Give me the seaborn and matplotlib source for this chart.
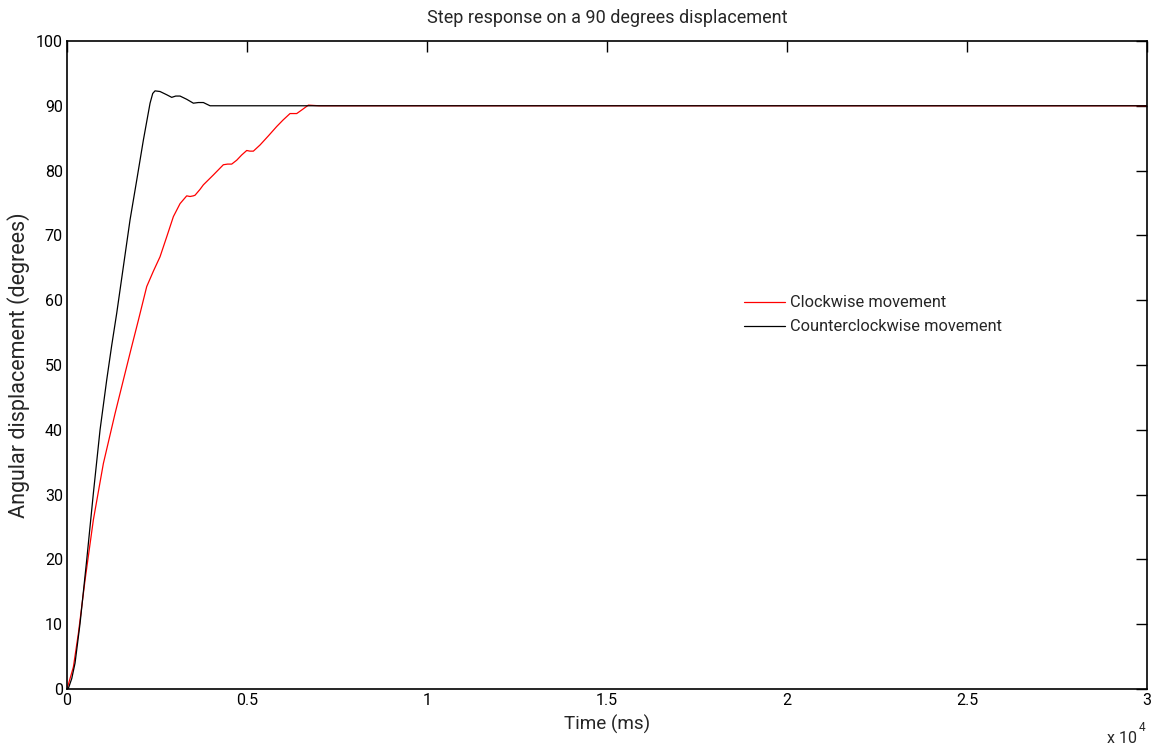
import matplotlib
matplotlib.use("Agg")
import matplotlib.pyplot as plt
import seaborn as sns
import pandas as pd
from matplotlib.ticker import FixedLocator, FuncFormatter

# Time samples (ms) and angular displacement (degrees) for each direction
cw_time = [0, 176, 315, 500, 731, 1009, 1333, 1565, 1780, 1981, 2213, 2400, 2583,
           2770, 2954, 3139, 3324, 3417, 3509, 3556, 3694, 3787, 4060, 4342, 4460,
           4574, 4713, 4850, 4991, 5080, 5176, 5361, 5600, 5824, 6000, 6194, 6290,
           6380, 6519, 6704, 7000, 30000]
cw_deg = [0.0, 3.4, 8.6, 16.8, 26.1, 34.8, 42.5, 47.7, 52.5, 56.9, 62.1, 64.5, 66.7,
          69.8, 72.9, 74.9, 76.1, 76.0, 76.1, 76.2, 77.1, 77.8, 79.3, 80.9, 81.0,
          81.0, 81.6, 82.4, 83.1, 83.0, 83.0, 83.95, 85.4, 86.8, 87.8, 88.8, 88.8,
          88.8, 89.35, 90.1, 90.0, 90.0]

ccw_time = [0, 37, 130, 222, 361, 546, 731, 917, 1102, 1240, 1380, 1565, 1750, 1935,
            2120, 2306, 2380, 2444, 2583, 2769, 2907, 3020, 3139, 3324, 3509, 3648,
            3787, 3972, 4300, 5000, 30000]
ccw_deg = [0.0, 0.1, 1.6, 4.0, 10.1, 19.9, 30.2, 40.0, 47.7, 53.0, 58.0, 65.2, 72.4,
           78.5, 84.7, 90.4, 91.9, 92.3, 92.2, 91.7, 91.3, 91.5, 91.5, 91.0, 90.4,
           90.5, 90.5, 90.0, 90.0, 90.0, 90.0]

series_names = ["Clockwise movement", "Counterclockwise movement"]
series_colors = ["#ff0000", "#000000"]
x_ticks = [0, 5000, 10000, 15000, 20000, 25000, 30000]
y_ticks = [0, 10, 20, 30, 40, 50, 60, 70, 80, 90, 100]

df = pd.concat([
    pd.DataFrame({"t": cw_time, "deg": cw_deg, "dir": series_names[0]}),
    pd.DataFrame({"t": ccw_time, "deg": ccw_deg, "dir": series_names[1]}),
], ignore_index=True)

sns.set_theme(style="white")
plt.rcParams["font.family"] = ["Roboto", "DejaVu Sans"]

fig = plt.figure(figsize=(11.6, 7.49), dpi=100)
ax = fig.add_axes([0.0578, 0.0801, 0.9310, 0.8652])

sns.lineplot(data=df, x="t", y="deg", hue="dir", hue_order=series_names,
             palette=dict(zip(series_names, series_colors)), sort=False,
             linewidth=0.9, ax=ax, estimator=None)

ax.set_xlim(0, 30000)
ax.set_ylim(0, 100)
ax.xaxis.set_major_locator(FixedLocator(x_ticks))
ax.yaxis.set_major_locator(FixedLocator(y_ticks))
ax.xaxis.set_major_formatter(FuncFormatter(lambda v, p: f"{v / 1e4:g}"))
ax.tick_params(direction="in", length=8, width=1.0, top=True, right=True,
               labelsize=11.5, colors="#000000", pad=3)

for s in ax.spines.values():
    s.set_visible(True)
    s.set_color("#000000")
    s.set_linewidth(1.2)

ax.set_title("Step response on a 90 degrees displacement", fontsize=13, pad=13)
ax.set_xlabel("Time (ms)", fontsize=13.6, labelpad=5)
ax.set_ylabel("Angular displacement (degrees)", fontsize=15.5, labelpad=4)

# scale factor shown below the x axis
ax.text(0.9907, -0.076, "x 10", transform=ax.transAxes, ha="right", va="center",
        fontsize=11.5)
ax.text(0.9925, -0.059, "4", transform=ax.transAxes, ha="left", va="center",
        fontsize=8.5)

leg = ax.legend(loc="upper left", bbox_to_anchor=(0.6196, 0.620), frameon=False,
                fontsize=11.8, handlelength=2.5, handletextpad=0.3,
                labelspacing=0.55, borderpad=0)
for line in leg.get_lines():
    line.set_linewidth(0.9)

fig.savefig("out.png", dpi=100, facecolor="white")
